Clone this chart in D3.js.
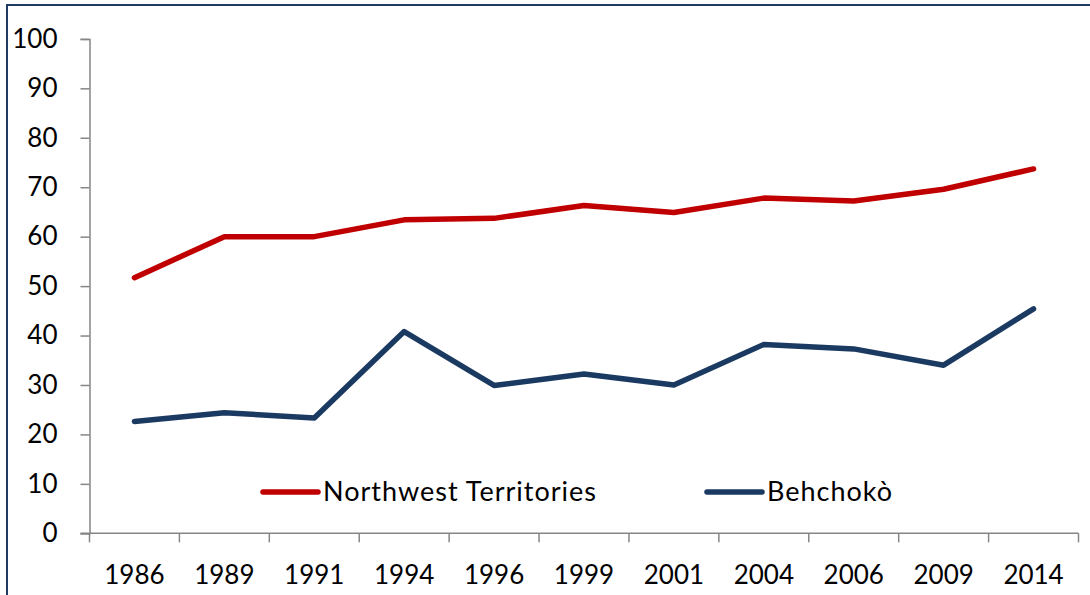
<!DOCTYPE html>
<html>
<head>
<meta charset="utf-8">
<script src="https://cdn.jsdelivr.net/npm/d3@7"></script>
<style>
  body { margin: 0; background: #fff; }
  svg { display: block; font-family: Lato, "Open Sans", sans-serif; }
</style>
</head>
<body>
<div id="root"></div>
<script>
// chart data
const years = ['1986', '1989', '1991', '1994', '1996', '1999', '2001', '2004', '2006', '2009', '2014'];
const nwt = [51.7, 60.0, 60.0, 63.4, 63.7, 66.3, 64.9, 67.8, 67.2, 69.6, 73.7];
const behchoko = [22.6, 24.4, 23.3, 40.8, 29.9, 32.2, 30.0, 38.2, 37.3, 34.0, 45.4];
const yTicks = [0, 10, 20, 30, 40, 50, 60, 70, 80, 90, 100];
const seriesNames = ['Northwest Territories', 'Behchokò'];

const w = 1090, h = 595;
const plotLeft = 89.5, plotRight = 1078.5, plotTop = 38.9, plotBottom = 533.3;
const axisColor = '#868686';
const colors = ['#C00000', '#1B3A62'];

const svg = d3.select('#root')
  .append('svg')
  .attr('width', w)
  .attr('height', h);

// outer frame
svg.append('rect')
  .attr('x', 7).attr('y', 5)
  .attr('width', 1100).attr('height', 620)
  .attr('fill', 'none')
  .attr('stroke', '#1F3B64')
  .attr('stroke-width', 2);

const x = d3.scaleBand().domain(years).range([plotLeft, plotRight]);
const y = d3.scaleLinear().domain([0, 100]).range([plotBottom, plotTop]);

// y axis
const yAxis = d3.axisLeft(y).tickValues(yTicks).tickSize(9).tickPadding(23);
const gy = svg.append('g')
  .attr('transform', `translate(${plotLeft},0)`)
  .call(yAxis);

// x axis, ticks between categories
const gx = svg.append('g')
  .attr('transform', `translate(0,${plotBottom})`);
gx.append('line')
  .attr('x1', plotLeft - 9).attr('x2', plotRight)
  .attr('stroke', axisColor).attr('stroke-width', 1.5);
const bounds = years.map(d => x(d)).concat([plotRight]);
gx.selectAll('line.tk')
  .data(bounds)
  .enter()
  .append('line')
  .attr('class', 'tk')
  .attr('x1', d => d).attr('x2', d => d)
  .attr('y1', 0).attr('y2', 9)
  .attr('stroke', axisColor).attr('stroke-width', 1.5);
gx.selectAll('text')
  .data(years)
  .enter()
  .append('text')
  .attr('x', d => x(d) + x.bandwidth() / 2)
  .attr('y', 51)
  .attr('text-anchor', 'middle')
  .attr('font-size', 26)
  .attr('fill', '#000')
  .text(d => d);

gy.select('.domain').attr('stroke', axisColor).attr('stroke-width', 1.5);
gy.selectAll('.tick line').attr('stroke', axisColor).attr('stroke-width', 1.5);
gy.selectAll('.tick text').attr('font-size', 26).attr('fill', '#000');
gy.attr('font-family', null).attr('font-size', null);

// lines
const line = d3.line()
  .x((d, i) => x(years[i]) + x.bandwidth() / 2)
  .y(d => y(d));

[nwt, behchoko].forEach((vals, k) => {
  svg.append('path')
    .datum(vals)
    .attr('d', line)
    .attr('fill', 'none')
    .attr('stroke', colors[k])
    .attr('stroke-width', 5.5)
    .attr('stroke-linejoin', 'round')
    .attr('stroke-linecap', 'round');
});

// legend
const legendX = [263, 707];
const legend = svg.append('g');
seriesNames.forEach((name, k) => {
  legend.append('line')
    .attr('x1', legendX[k]).attr('x2', legendX[k] + 55)
    .attr('y1', 492).attr('y2', 492)
    .attr('stroke', colors[k])
    .attr('stroke-width', 5.5)
    .attr('stroke-linecap', 'round');
  legend.append('text')
    .attr('x', legendX[k] + 60)
    .attr('y', 501)
    .attr('font-size', 27)
    .attr('letter-spacing', 1)
    .attr('fill', '#000')
    .text(name);
});
</script>
</body>
</html>
